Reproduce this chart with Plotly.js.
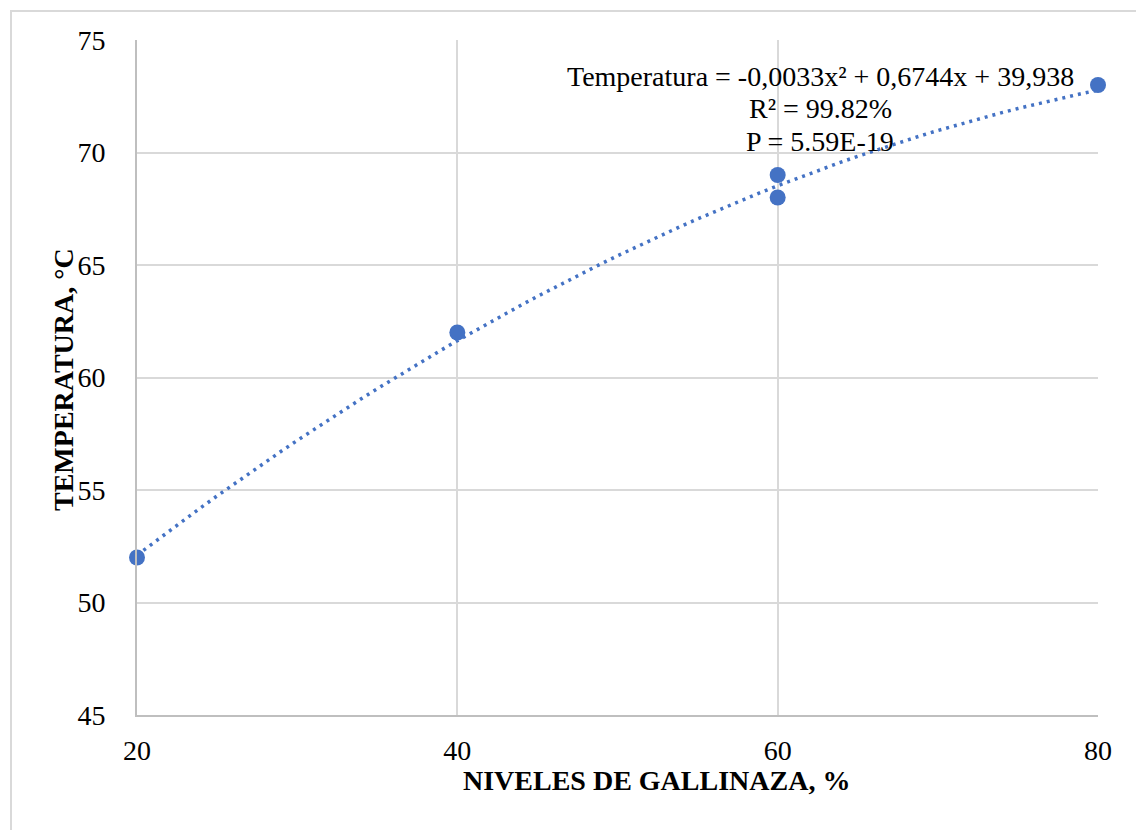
<!DOCTYPE html>
<html>
<head>
<meta charset="utf-8">
<script src="https://cdn.plot.ly/plotly-3.0.1.min.js"></script>
<style>html,body{margin:0;padding:0;background:#fff;}#chart{width:1136px;height:830px;}</style>
</head>
<body>
<div id="chart"></div>
<script>
// Data
const nivelesGallinaza = [20, 40, 60, 60, 80];
const temperatura = [52, 62, 69, 68, 73];
// Quadratic trendline coefficients shown on the chart: a*x^2 + b*x + c
const trendCoef = [-0.0033, 0.6744, 39.938];
const xTicks = [20, 40, 60, 80];
const yTicks = [45, 50, 55, 60, 65, 70, 75];
const eqLines = ["Temperatura = -0,0033x² + 0,6744x + 39,938", "R² = 99.82%", "P = 5.59E-19"];
const xTitle = "NIVELES DE GALLINAZA, %";
const yTitle = "TEMPERATURA, °C";

const trendX = [];
for (let x = nivelesGallinaza[0]; x <= nivelesGallinaza[nivelesGallinaza.length - 1]; x += 1) trendX.push(x);
const trendY = trendX.map(x => trendCoef[0] * x * x + trendCoef[1] * x + trendCoef[2]);

const blue = '#4472C4';
const font = 'Liberation Serif, Times New Roman, serif';

const traces = [
  {x: trendX, y: trendY, mode: 'lines', type: 'scatter', hoverinfo: 'skip', cliponaxis: false,
   line: {color: blue, width: 3.5, dash: '3px,5px'}, showlegend: false},
  {x: nivelesGallinaza, y: temperatura, mode: 'markers', type: 'scatter', cliponaxis: false,
   marker: {color: blue, size: 16}, showlegend: false}
];

// plot-area pixel -> paper conversion helpers (for text placement only)
const plotL = 137, plotW = 961, plotB = 715, plotH = 675;
const pxX = px => (px - plotL) / plotW;
const pxY = py => (plotB - py) / plotH;
const lineCentersPy = [76, 108.5, 141];

const annotations = eqLines.map((t, i) => ({
  xref: 'paper', yref: 'paper', x: pxX(820), y: pxY(lineCentersPy[i]), xanchor: 'center', yanchor: 'middle',
  text: t, showarrow: false, align: 'center',
  font: {family: font, size: 28, color: '#000'}
}));
annotations.push({
  xref: 'paper', yref: 'paper', x: pxX(656), y: pxY(780), xanchor: 'center', yanchor: 'middle',
  text: '<b>' + xTitle + '</b>', showarrow: false, font: {family: font, size: 28, color: '#000'}
});
annotations.push({
  xref: 'paper', yref: 'paper', x: pxX(63), y: pxY(380), xanchor: 'center', yanchor: 'middle',
  textangle: -90, text: '<b>' + yTitle + '</b>', showarrow: false, font: {family: font, size: 28, color: '#000'}
});

const layout = {
  width: 1136, height: 830,
  margin: {l: 137, r: 38, t: 40, b: 115},
  paper_bgcolor: '#fff', plot_bgcolor: '#fff',
  font: {family: font, color: '#000', size: 28},
  xaxis: {
    range: [20, 80], tickvals: xTicks, ticktext: xTicks.map(String),
    showgrid: true, gridcolor: '#d9d9d9', gridwidth: 2,
    showline: true, linecolor: '#bfbfbf', linewidth: 2,
    zeroline: false, ticks: '', ticklabelstandoff: 9,
    tickfont: {family: font, size: 28, color: '#000'}
  },
  yaxis: {
    range: [45, 75], tickvals: yTicks, ticktext: yTicks.map(String),
    showgrid: true, gridcolor: '#d9d9d9', gridwidth: 2,
    showline: true, linecolor: '#bfbfbf', linewidth: 2,
    zeroline: false, ticks: '', ticklabelstandoff: 24,
    tickfont: {family: font, size: 28, color: '#000'}
  },
  annotations: annotations,
  shapes: [{
    type: 'rect', xref: 'paper', yref: 'paper',
    x0: (11 - 137) / 961, x1: (1145 - 137) / 961,
    y0: (715 - 845) / 675, y1: (715 - 11) / 675,
    line: {color: '#d9d9d9', width: 2}, layer: 'below'
  }]
};

Plotly.newPlot('chart', traces, layout, {displayModeBar: false, staticPlot: true});
</script>
</body>
</html>
